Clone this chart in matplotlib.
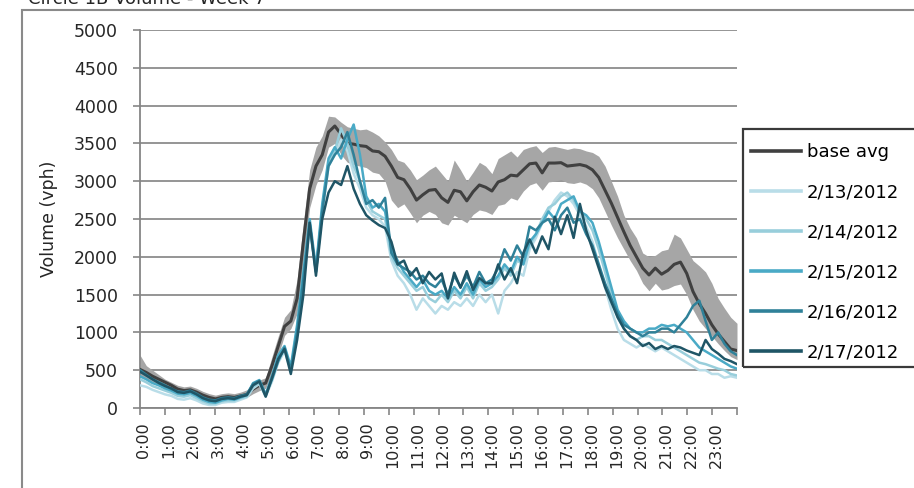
import numpy as np
import matplotlib
matplotlib.use('Agg')
import matplotlib.pyplot as plt
from matplotlib.patches import Rectangle

plt.rcParams['font.family'] = ['DejaVu Sans']

# 15-minute counts, 96 per day
hour_labels = ['%d:00' % h for h in range(24)]

base_avg = [510, 470, 420, 380, 340, 300, 250, 230, 240, 210, 170, 140,
            120, 140, 150, 140, 160, 180, 250, 300, 330, 560, 820, 1080,
            1150, 1450, 2200, 2900, 3200, 3350, 3650, 3730, 3620, 3500, 3490, 3470,
            3460, 3400, 3390, 3330, 3200, 3050, 3020, 2900, 2750, 2820, 2880, 2890,
            2780, 2720, 2880, 2860, 2740, 2860, 2950, 2920, 2870, 2990, 3020, 3080,
            3070, 3150, 3230, 3240, 3110, 3240, 3240, 3245, 3200, 3210, 3220, 3200,
            3150, 3050, 2880, 2710, 2520, 2330, 2150, 2000, 1850, 1760, 1850, 1770,
            1820, 1900, 1930, 1780, 1540, 1380, 1250, 1100, 980, 880, 780, 760]

band_hi = [700, 560, 500, 440, 380, 340, 300, 280, 290, 260, 220, 190,
           170, 190, 200, 190, 210, 240, 320, 370, 400, 680, 950, 1200,
           1300, 1700, 2450, 3150, 3450, 3600, 3860, 3850, 3780, 3720, 3700, 3680,
           3690, 3650, 3600, 3520, 3420, 3280, 3250, 3150, 3020, 3080, 3150, 3200,
           3100, 3000, 3280, 3150, 3000, 3120, 3250, 3200, 3100, 3300, 3350, 3400,
           3320, 3420, 3450, 3470, 3380, 3450, 3460, 3440, 3420, 3440, 3430, 3400,
           3380, 3330, 3200, 3000, 2800, 2550, 2380, 2250, 2050, 2000, 2020, 2080,
           2100, 2300, 2250, 2100, 1950, 1880, 1800, 1650, 1450, 1320, 1200, 1120]

band_lo = [420, 380, 330, 290, 260, 220, 190, 170, 180, 160, 120, 90,
           80, 100, 110, 100, 120, 140, 190, 230, 260, 450, 700, 960,
           1050, 1250, 1950, 2650, 2950, 3150, 3450, 3500, 3350, 3250, 3220, 3200,
           3180, 3120, 3100, 3000, 2750, 2650, 2700, 2580, 2450, 2550, 2600, 2560,
           2450, 2420, 2550, 2500, 2450, 2560, 2620, 2600, 2560, 2680, 2700, 2780,
           2750, 2870, 2950, 2980, 2880, 2990, 3000, 3020, 2980, 2970, 2990, 2960,
           2900, 2780, 2600, 2420, 2250, 2100, 1950, 1820, 1650, 1550, 1650, 1560,
           1580, 1620, 1640, 1500, 1300, 1150, 1050, 950, 850, 760, 680, 640]

day_0213 = [300, 280, 240, 210, 180, 160, 120, 110, 130, 100, 60, 40,
            40, 70, 80, 80, 110, 140, 260, 320, 150, 350, 600, 750,
            500, 1000, 1700, 2350, 1850, 2600, 3200, 3350, 3550, 3400, 3100, 2900,
            2650, 2550, 2500, 2400, 1950, 1750, 1650, 1500, 1300, 1450, 1350, 1250,
            1350, 1300, 1400, 1350, 1450, 1350, 1500, 1400, 1500, 1250, 1550, 1650,
            1800, 1750, 2100, 2250, 2450, 2600, 2750, 2850, 2800, 2700, 2550, 2400,
            2200, 1900, 1600, 1300, 1050, 900, 850, 800, 850, 800, 750, 800,
            750, 700, 650, 600, 550, 500, 500, 450, 450, 400, 420, 400]

day_0214 = [380, 340, 290, 260, 230, 200, 160, 150, 170, 130, 90, 60,
            60, 90, 100, 100, 130, 150, 280, 330, 160, 380, 640, 780,
            520, 1050, 1750, 2400, 1800, 2650, 3250, 3400, 3700, 3500, 3200, 3000,
            2750, 2600, 2550, 2500, 2000, 1850, 1750, 1650, 1550, 1600, 1450, 1400,
            1500, 1400, 1550, 1450, 1600, 1450, 1650, 1550, 1600, 1700, 1850, 1750,
            1950, 1900, 2150, 2300, 2500, 2650, 2700, 2800, 2850, 2750, 2600, 2500,
            2350, 2100, 1800, 1500, 1200, 1050, 950, 900, 950, 950, 900, 900,
            850, 800, 750, 700, 650, 600, 580, 550, 520, 500, 450, 430]

day_0215 = [420, 380, 330, 300, 260, 230, 190, 180, 200, 160, 110, 80,
            70, 100, 120, 110, 140, 170, 330, 370, 180, 420, 700, 820,
            550, 1100, 1800, 2500, 1850, 2700, 3300, 3450, 3300, 3550, 3750, 3350,
            2800, 2650, 2700, 2600, 2100, 1950, 1800, 1700, 1600, 1700, 1550, 1500,
            1550, 1450, 1600, 1500, 1650, 1500, 1700, 1600, 1650, 1750, 1900, 1800,
            2000, 1900, 2200, 2300, 2450, 2600, 2500, 2700, 2750, 2800, 2600, 2550,
            2450, 2200, 1900, 1600, 1300, 1150, 1050, 1000, 1000, 1050, 1050, 1100,
            1080, 1100, 1050, 1000, 900, 800, 750, 700, 650, 600, 550, 520]

day_0216 = [500, 440, 380, 340, 300, 250, 220, 210, 230, 190, 140, 110,
            100, 130, 140, 130, 160, 180, 320, 360, 170, 380, 620, 800,
            500, 1000, 1700, 2450, 1800, 2600, 3200, 3350, 3450, 3650, 3350, 3000,
            2700, 2750, 2650, 2780, 2050, 1900, 1850, 1800, 1700, 1750, 1650, 1600,
            1700, 1500, 1750, 1600, 1750, 1600, 1800, 1650, 1700, 1850, 2100, 1950,
            2150, 2000, 2400, 2350, 2450, 2500, 2350, 2550, 2650, 2450, 2500, 2300,
            2150, 1900, 1650, 1450, 1250, 1100, 1050, 1000, 950, 1000, 1000, 1050,
            1050, 1000, 1100, 1200, 1350, 1420, 1150, 900, 1000, 850, 750, 700]

day_0217 = [480, 430, 380, 330, 290, 260, 210, 200, 220, 180, 130, 100,
            90, 120, 130, 120, 150, 170, 300, 350, 150, 400, 650, 780,
            450, 900, 1500, 2450, 1750, 2500, 2850, 3000, 2950, 3200, 2900, 2700,
            2550, 2480, 2420, 2380, 2200, 1900, 1950, 1750, 1850, 1650, 1800, 1700,
            1780, 1450, 1790, 1590, 1810, 1560, 1720, 1650, 1650, 1900, 1700, 1850,
            1650, 2050, 2230, 2050, 2270, 2100, 2530, 2300, 2550, 2250, 2700, 2350,
            2100, 1850, 1600, 1400, 1200, 1050, 950, 900, 820, 860, 780, 820,
            780, 820, 800, 760, 730, 700, 900, 780, 720, 650, 620, 580]

days = ['2/13/2012', '2/14/2012', '2/15/2012', '2/16/2012', '2/17/2012']
day_series = [day_0213, day_0214, day_0215, day_0216, day_0217]
day_colors = ['#B9DDE8', '#98CEDB', '#4AAAC6', '#2F8199', '#1F5566']

W, H = 914, 488
fig = plt.figure(figsize=(W / 100, H / 100), dpi=100)

# outer chart border (cropped on right/bottom in the original)
fig.patches.append(Rectangle((22 / W, -0.2), 2, 1.2 - 9.5 / H, transform=fig.transFigure,
                             fill=False, edgecolor='#8a8a8a', linewidth=1.5))
fig.text(28 / W, 1 - 4 / H, 'Circle 1B Volume - Week 7', fontsize=13,
         va='baseline', ha='left', color='#262626')

ax = fig.add_axes([140 / W, 1 - 408 / H, (737 - 140) / W, (408 - 30) / H])

x = np.linspace(0, 24, len(base_avg))

ax.fill_between(x, band_lo, band_hi, color='#A6A6A6', linewidth=0, zorder=2)
ax.plot(x, base_avg, color='#404040', linewidth=2.2, label='base avg', zorder=3)
for name, vals, col in zip(days, day_series, day_colors):
    ax.plot(x, vals, color=col, linewidth=1.8, label=name, zorder=4)

ax.set_xlim(0, 24)
ax.set_ylim(0, 5000)
ax.set_yticks(np.arange(0, 5001, 500))
ax.grid(axis='y', color='#8c8c8c', linewidth=1.3, zorder=1)
ax.set_axisbelow(True)

ax.set_xticks(np.arange(25))
ax.set_xticklabels([])
ax.set_xticks(np.arange(24) + 0.16, minor=True)
ax.set_xticklabels(hour_labels, minor=True, rotation=90, va='top', ha='center')
ax.tick_params(axis='x', which='major', length=5, width=1.2, color='#868686', direction='out')
ax.tick_params(axis='x', which='minor', length=0, pad=10, labelsize=11.5, labelcolor='#262626')
ax.tick_params(axis='y', length=5, width=1.2, color='#868686', pad=11,
               labelsize=12.5, labelcolor='#262626')

for side in ['top', 'right']:
    ax.spines[side].set_visible(False)
for side in ['left', 'bottom']:
    ax.spines[side].set_color('#868686')
    ax.spines[side].set_linewidth(1.3)

ax.set_ylabel('Volume (vph)', fontsize=12.5, color='#262626')
ax.yaxis.set_label_coords(-0.137, 0.5)

# legend with a box that runs off the right edge like the original
fig.patches.append(Rectangle((743 / W, 1 - 367 / H), 0.3, (367 - 129) / H,
                             transform=fig.transFigure, fill=False,
                             edgecolor='#3a3a3a', linewidth=1.6))
handles, labels = ax.get_legend_handles_labels()
leg = fig.legend(handles, labels, loc='upper left', bbox_to_anchor=(751 / W, 1 - 143 / H),
                 frameon=False, borderpad=0, borderaxespad=0, fontsize=13,
                 handlelength=2.75, handletextpad=0.35, labelspacing=1.22)
for line in leg.get_lines():
    line.set_linewidth(2.6)

fig.savefig('out.png', dpi=100)
